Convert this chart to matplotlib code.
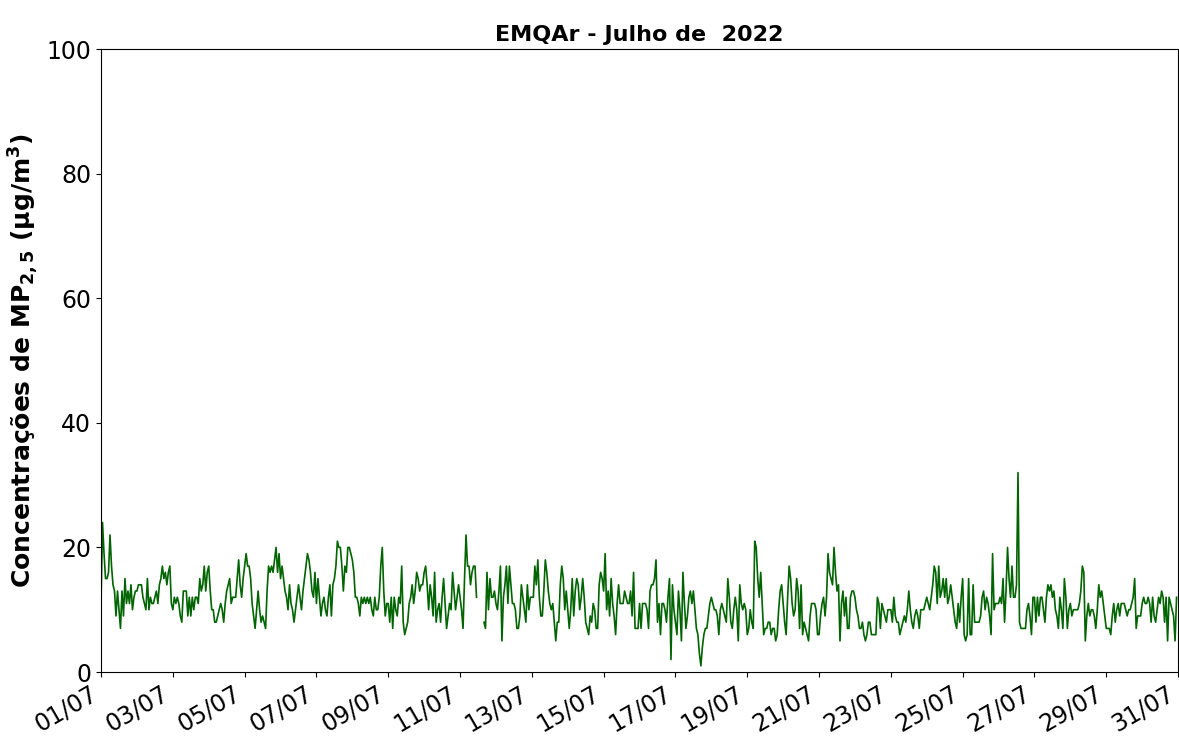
import numpy as np
import pandas as pd
import matplotlib
matplotlib.use('Agg')
import matplotlib.pyplot as plt
import matplotlib.dates as mdates

# hourly PM2.5 (ug/m3), one list per day, July 2022
jul01 = [11, 24, 19, 15, 15, 16, 22, 17, 14, 13, 9, 13, 10, 7, 13, 9, 15, 11, 13, 11, 14, 10, 12, 13]
jul02 = [13, 14, 14, 14, 12, 11, 10, 15, 10, 12, 11, 11, 12, 13, 11, 14, 15, 17, 15, 16, 14, 16, 17, 11]
jul03 = [10, 12, 11, 12, 11, 9, 8, 13, 13, 13, 9, 12, 9, 12, 10, 12, 12, 11, 15, 13, 14, 17, 13, 16]
jul04 = [17, 13, 10, 10, 8, 8, 9, 10, 11, 10, 8, 11, 13, 14, 15, 11, 12, 12, 12, 15, 18, 14, 12, 15]
jul05 = [17, 19, 17, 17, 15, 11, 9, 7, 10, 13, 10, 8, 9, 8, 7, 13, 17, 16, 17, 16, 18, 20, 16, 19]
jul06 = [15, 17, 15, 13, 12, 10, 14, 11, 10, 8, 10, 12, 14, 12, 10, 13, 15, 17, 19, 18, 16, 13, 12, 16]
jul07 = [11, 15, 12, 9, 11, 12, 10, 9, 12, 14, 9, 14, 15, 17, 21, 20, 20, 17, 13, 17, 16, 20, 20, 19]
jul08 = [18, 16, 12, 12, 11, 9, 12, 11, 12, 11, 12, 11, 12, 10, 9, 12, 10, 10, 12, 17, 20, 13, 9, 11]
jul09 = [11, 8, 12, 7, 12, 10, 9, 12, 11, 17, 8, 6, 7, 8, 11, 12, 14, 11, 13, 16, 15, 13, 14, 14]
jul10 = [16, 17, 14, 10, 14, 12, 9, 16, 8, 10, 11, 8, 12, 15, 11, 7, 9, 11, 10, 16, 13, 10, 12, 14]
jul11 = [12, 10, 7, 15, 22, 17, 17, 14, 16, 17, 17, 12, np.nan, np.nan, np.nan, np.nan, 8, 7, 16, 10, 15, 12, 12, 13]
jul12 = [11, 10, 13, 17, 5, 12, 14, 17, 11, 17, 14, 11, 11, 10, 7, 7, 9, 14, 12, 10, 8, 14, 10, 12]
jul13 = [12, 12, 17, 14, 18, 12, 9, 9, 13, 18, 16, 13, 11, 10, 11, 8, 5, 8, 8, 14, 17, 15, 10, 13]
jul14 = [10, 7, 10, 15, 9, 13, 15, 14, 10, 12, 15, 12, 8, 7, 6, 9, 8, 11, 10, 7, 7, 14, 16, 15]
jul15 = [13, 19, 10, 13, 9, 15, 11, 9, 6, 11, 14, 11, 11, 11, 13, 12, 11, 11, 13, 9, 16, 7, 7, 7]
jul16 = [11, 7, 11, 11, 11, 10, 7, 13, 14, 14, 15, 18, 8, 11, 6, 11, 11, 10, 8, 12, 15, 2, 14, 10]
jul17 = [8, 6, 13, 10, 5, 16, 11, 7, 9, 12, 13, 11, 13, 10, 7, 6, 3, 1, 4, 6, 7, 7, 9, 11]
jul18 = [12, 11, 10, 10, 9, 6, 10, 11, 10, 9, 8, 15, 12, 8, 7, 10, 12, 10, 5, 14, 11, 10, 11, 10]
jul19 = [6, 7, 10, 8, 7, 21, 20, 15, 12, 16, 11, 6, 7, 7, 8, 8, 6, 7, 7, 5, 6, 10, 13, 14]
jul20 = [11, 8, 6, 12, 17, 15, 11, 9, 10, 15, 13, 7, 14, 6, 8, 7, 6, 5, 9, 11, 11, 11, 10, 6]
jul21 = [6, 9, 11, 12, 9, 12, 19, 16, 15, 14, 20, 16, 13, 14, 5, 11, 13, 9, 12, 7, 7, 12, 13, 13]
jul22 = [12, 10, 9, 7, 7, 8, 6, 5, 6, 8, 8, 6, 6, 6, 6, 12, 11, 7, 11, 10, 9, 8, 10, 10]
jul23 = [10, 8, 12, 9, 8, 8, 6, 7, 8, 9, 8, 10, 13, 10, 8, 7, 9, 10, 9, 7, 10, 10, 10, 11]
jul24 = [12, 11, 10, 12, 14, 17, 16, 11, 17, 12, 13, 15, 12, 15, 11, 12, 14, 12, 10, 8, 7, 11, 8, 12]
jul25 = [15, 6, 5, 6, 15, 6, 6, 14, 8, 8, 8, 8, 9, 12, 13, 10, 12, 11, 9, 6, 19, 10, 11, 11]
jul26 = [11, 12, 11, 15, 8, 13, 20, 15, 12, 17, 12, 12, 14, 32, 8, 7, 7, 7, 7, 10, 11, 9, 6, 12]
jul27 = [12, 8, 12, 9, 12, 12, 10, 8, 12, 14, 13, 14, 12, 13, 10, 9, 7, 12, 10, 7, 15, 12, 7, 10]
jul28 = [11, 9, 10, 10, 10, 10, 11, 13, 17, 16, 5, 9, 11, 9, 10, 10, 9, 7, 10, 14, 12, 13, 11, 9]
jul29 = [7, 7, 7, 6, 9, 11, 8, 10, 11, 9, 11, 11, 11, 10, 9, 10, 10, 11, 12, 15, 7, 9, 9, 9]
jul30 = [11, 12, 11, 11, 12, 11, 8, 12, 9, 8, 10, 12, 11, 13, 12, 8, 12, 5, 12, 11, 10, 9, 5, 12]

dias = [jul01, jul02, jul03, jul04, jul05, jul06, jul07, jul08, jul09, jul10,
        jul11, jul12, jul13, jul14, jul15, jul16, jul17, jul18, jul19, jul20,
        jul21, jul22, jul23, jul24, jul25, jul26, jul27, jul28, jul29, jul30]

mp25 = np.concatenate([np.array(d, dtype=float) for d in dias])
horas = pd.date_range('2022-07-01 00:00', periods=len(mp25), freq='h')

fig = plt.figure(figsize=(11.79, 7.38), dpi=100)
ax = fig.add_axes([0.0857, 0.0894, 0.9135, 0.8442])

ax.plot(horas, mp25, color='darkgreen', linewidth=1.2)

ax.set_ylim(0, 100)
ax.set_xlim(pd.Timestamp('2022-07-01'), pd.Timestamp('2022-07-31'))
ax.set_yticks([0, 20, 40, 60, 80, 100])
ax.xaxis.set_major_locator(mdates.DayLocator(bymonthday=range(1, 32, 2)))
ax.xaxis.set_major_formatter(mdates.DateFormatter('%d/%m'))
plt.setp(ax.get_xticklabels(), rotation=30, ha='right')
ax.tick_params(axis='both', labelsize=17)

ax.set_title('EMQAr - Julho de  2022', fontsize=16, fontweight='bold')
ax.set_ylabel('Concentrações de MP$_{\\mathbf{2,5}}$ ($\\mathbf{\\mu g/m^3}$)', fontsize=18, fontweight='bold')

fig.savefig('out.png', dpi=100)
